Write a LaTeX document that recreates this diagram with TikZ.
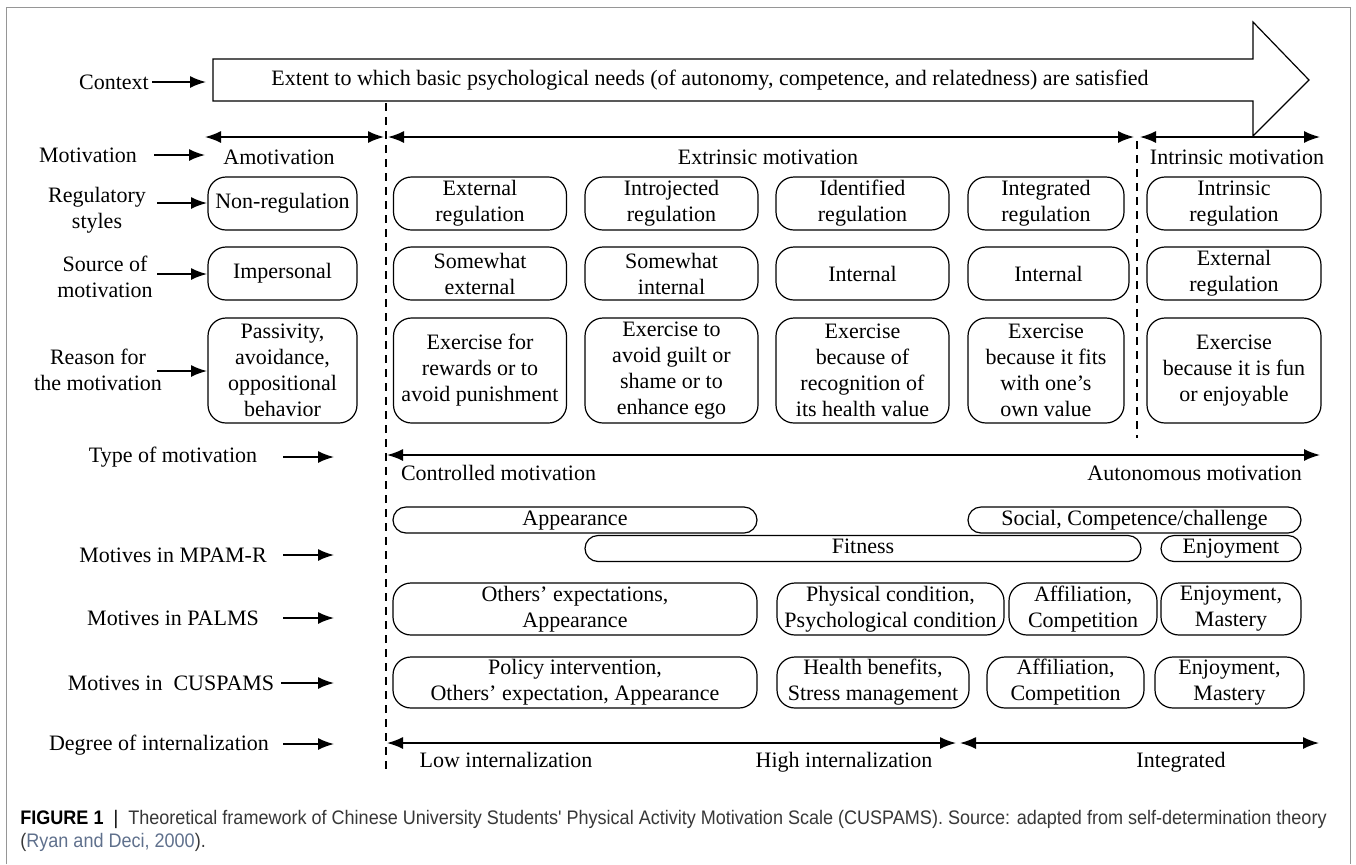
\documentclass[tikz,border=0pt]{standalone}
\usepackage{fontspec}
\setmainfont{Liberation Serif}
\newfontfamily\capfont[FakeStretch=0.92]{Liberation Sans}
\usepackage{tikz}
\usetikzlibrary{arrows.meta}
\definecolor{framegray}{RGB}{150,150,150}
\definecolor{linkblue}{RGB}{95,112,140}
\definecolor{captext}{RGB}{55,55,55}
\tikzset{
  box/.style={draw,rounded corners=9pt,align=center,inner sep=0pt,line width=0.6pt},
  slim/.style={draw,rounded corners=6.5pt,align=center,inner sep=0pt,line width=0.6pt,minimum height=13pt,text height=7pt,text depth=2pt},
  hreg/.style={minimum height=26.5pt},
  hrsn/.style={minimum height=52.5pt},
  arr/.style={-{Latex[length=8pt,width=6pt]},line width=0.8pt},
  arrtwo/.style={{Latex[length=8pt,width=6pt]}-{Latex[length=8pt,width=6pt]},line width=0.8pt},
  sep/.style={dashed,dash pattern=on 4pt off 3pt,line width=0.6pt}
}
\begin{document}
\begin{tikzpicture}[x=0.5pt,y=-0.5pt,font=\fontsize{11}{13}\selectfont]
\useasboundingbox (0,0) rectangle (1356,864);
\draw[framegray,line width=0.5pt] (6,864) -- (6,7) -- (1350,7) -- (1350,864);

% context arrow
\draw[line width=0.6pt] (213,59) -- (1253,59) -- (1253,22) -- (1309,80) -- (1253,136) -- (1253,101) -- (213,101) -- cycle;
\node (ctx) at (710,80) {Extent to which basic psychological needs (of autonomy, competence, and relatedness) are satisfied};
\node (lctx) at (114,82) {Context};
\coordinate (ctxA) at (152,82);
\coordinate (ctxB) at (206,82);
\draw[arr] (ctxA) -- (ctxB);

% separators
\coordinate (s1t) at (386,103);
\coordinate (s1b) at (386,770);
\coordinate (s2t) at (1137,141);
\coordinate (s2b) at (1137,438);
\draw[sep] (s1t) -- (s1b);
\draw[sep] (s2t) -- (s2b);

% motivation
\coordinate (am1) at (205,137);
\coordinate (am2) at (384,137);
\coordinate (ex1) at (388,137);
\coordinate (ex2) at (1134,137);
\coordinate (in1) at (1140,137);
\coordinate (in2) at (1320,137);
\draw[arrtwo] (am1) -- (am2);
\draw[arrtwo] (ex1) -- (ex2);
\draw[arrtwo] (in1) -- (in2);
\node (amot) at (279,157) {Amotivation};
\node (extr) at (768,157) {Extrinsic motivation};
\node (intr) at (1237,157) {Intrinsic motivation};
\node (lmot) at (88,155) {Motivation};
\coordinate (lmotA) at (154,155);
\coordinate (lmotB) at (205,155);
\draw[arr] (lmotA) -- (lmotB);

% regulatory styles
\node[align=center] (lreg) at (97,210) {Regulatory\\styles};
\coordinate (lregA) at (157,203);
\coordinate (lregB) at (207,203);
\draw[arr] (lregA) -- (lregB);
\node[box,hreg,minimum width=74.5pt] (reg0) at (282.5,203.5) {Non-regulation};
\node[box,hreg,minimum width=86.5pt] (reg1) at (480,203.5) {External\\regulation};
\node[box,hreg,minimum width=86.5pt] (reg2) at (671.5,203.5) {Introjected\\regulation};
\node[box,hreg,minimum width=86.5pt] (reg3) at (862.5,203.5) {Identified\\regulation};
\node[box,hreg,minimum width=78pt] (reg4) at (1046,203.5) {Integrated\\regulation};
\node[box,hreg,minimum width=87pt] (reg5) at (1234,203.5) {Intrinsic\\regulation};

% source of motivation
\node[align=center] (lsrc) at (105,277) {Source of\\motivation};
\coordinate (lsrcA) at (157,274);
\coordinate (lsrcB) at (207,274);
\draw[arr] (lsrcA) -- (lsrcB);
\node[box,hreg,minimum width=74.5pt] (src0) at (282.5,273.5) {Impersonal};
\node[box,hreg,minimum width=86.5pt] (src1) at (480,273.5) {Somewhat\\external};
\node[box,hreg,minimum width=86.5pt] (src2) at (671.5,273.5) {Somewhat\\internal};
\node[box,hreg,minimum width=86.5pt] (src3) at (862.5,273.5) {Internal};
\node[box,hreg,minimum width=80.5pt] (src4) at (1048.5,273.5) {Internal};
\node[box,hreg,minimum width=87pt] (src5) at (1234,273.5) {External\\regulation};

% reason
\node[align=center] (lrsn) at (98,370) {Reason for\\the motivation};
\coordinate (lrsnA) at (157,371);
\coordinate (lrsnB) at (207,371);
\draw[arr] (lrsnA) -- (lrsnB);
\node[box,hrsn,minimum width=74.5pt] (rsn0) at (282.5,370.5) {Passivity,\\avoidance,\\oppositional\\behavior};
\node[box,hrsn,minimum width=86.5pt] (rsn1) at (480,370.5) {Exercise for\\rewards or to\\avoid punishment};
\node[box,hrsn,minimum width=86.5pt] (rsn2) at (671.5,370.5) {Exercise to\\avoid guilt or\\shame or to\\enhance ego};
\node[box,hrsn,minimum width=86.5pt] (rsn3) at (862.5,370.5) {Exercise\\because of\\recognition of\\its health value};
\node[box,hrsn,minimum width=78pt] (rsn4) at (1046,370.5) {Exercise\\because it fits\\with one's\\own value};
\node[box,hrsn,minimum width=87pt] (rsn5) at (1234,370.5) {Exercise\\because it is fun\\or enjoyable};

% type of motivation
\node (ltype) at (173,457) {Type of motivation};
\coordinate (ltypeA) at (283,457);
\coordinate (ltypeB) at (334,457);
\draw[arr] (ltypeA) -- (ltypeB);
\coordinate (ty1) at (387,455);
\coordinate (ty2) at (1320,455);
\draw[arrtwo] (ty1) -- (ty2);
\node[anchor=base west] (ctrl) at (394,480) {Controlled motivation};
\node[anchor=base east] (auto) at (1309,480) {Autonomous motivation};

% MPAM-R
\node (lmpam) at (173,555) {Motives in MPAM-R};
\coordinate (lmpamA) at (283,555);
\coordinate (lmpamB) at (334,555);
\draw[arr] (lmpamA) -- (lmpamB);
\node[slim,minimum width=182pt] (mp1) at (575,520) {Appearance};
\node[slim,minimum width=166.5pt] (mp2) at (1134.5,520) {Social, Competence/challenge};
\node[slim,minimum width=278pt] (mp3) at (863,548.5) {Fitness};
\node[slim,minimum width=70pt] (mp4) at (1231,548.5) {Enjoyment};

% PALMS
\node (lpalms) at (173,618) {Motives in PALMS};
\coordinate (lpalmsA) at (283,618);
\coordinate (lpalmsB) at (334,618);
\draw[arr] (lpalmsA) -- (lpalmsB);
\node[box,minimum height=26pt,minimum width=182pt] (pa1) at (575,609) {Others' expectations,\\Appearance};
\node[box,minimum height=26pt,minimum width=113.5pt] (pa2) at (890.5,609) {Physical condition,\\Psychological condition};
\node[box,minimum height=26pt,minimum width=74pt] (pa3) at (1083,609) {Affiliation,\\Competition};
\node[box,minimum height=26pt,minimum width=70pt] (pa4) at (1231,609) {Enjoyment,\\Mastery};

% CUSPAMS
\node (lcus) at (171,683) {Motives in\ \ CUSPAMS};
\coordinate (lcusA) at (281,683);
\coordinate (lcusB) at (334,683);
\draw[arr] (lcusA) -- (lcusB);
\node[box,minimum height=25.5pt,minimum width=182pt] (cu1) at (575,682.5) {Policy intervention,\\Others' expectation, Appearance};
\node[box,minimum height=25.5pt,minimum width=96pt] (cu2) at (873,682.5) {Health benefits,\\Stress management};
\node[box,minimum height=25.5pt,minimum width=78.5pt] (cu3) at (1065.5,682.5) {Affiliation,\\Competition};
\node[box,minimum height=25.5pt,minimum width=74.5pt] (cu4) at (1229.5,682.5) {Enjoyment,\\Mastery};

% degree of internalization
\node (ldeg) at (159,745) {Degree of internalization};
\coordinate (ldegA) at (283,744);
\coordinate (ldegB) at (334,744);
\draw[arr] (ldegA) -- (ldegB);
\coordinate (dg1) at (387,743);
\coordinate (dg2) at (956,743);
\coordinate (dg3) at (960,743);
\coordinate (dg4) at (1319,743);
\draw[arrtwo] (dg1) -- (dg2);
\draw[arrtwo] (dg3) -- (dg4);
\node[anchor=base] (low) at (506,767) {Low internalization};
\node[anchor=base] (high) at (844,767) {High internalization};
\node[anchor=base] (integ) at (1181,767) {Integrated};

% caption
\node[anchor=north west,align=left,inner sep=0pt,text=captext,font=\capfont\fontsize{9.8}{11.5}\selectfont] (cap) at (20,810)
  {{\color{black}\bfseries FIGURE 1} \ {\color{black}|} \ Theoretical framework of Chinese University Students' Physical Activity Motivation Scale (CUSPAMS). Source: adapted from self-determination theory\\(\textcolor{linkblue}{Ryan and Deci, 2000}).};
\end{tikzpicture}
\end{document}
